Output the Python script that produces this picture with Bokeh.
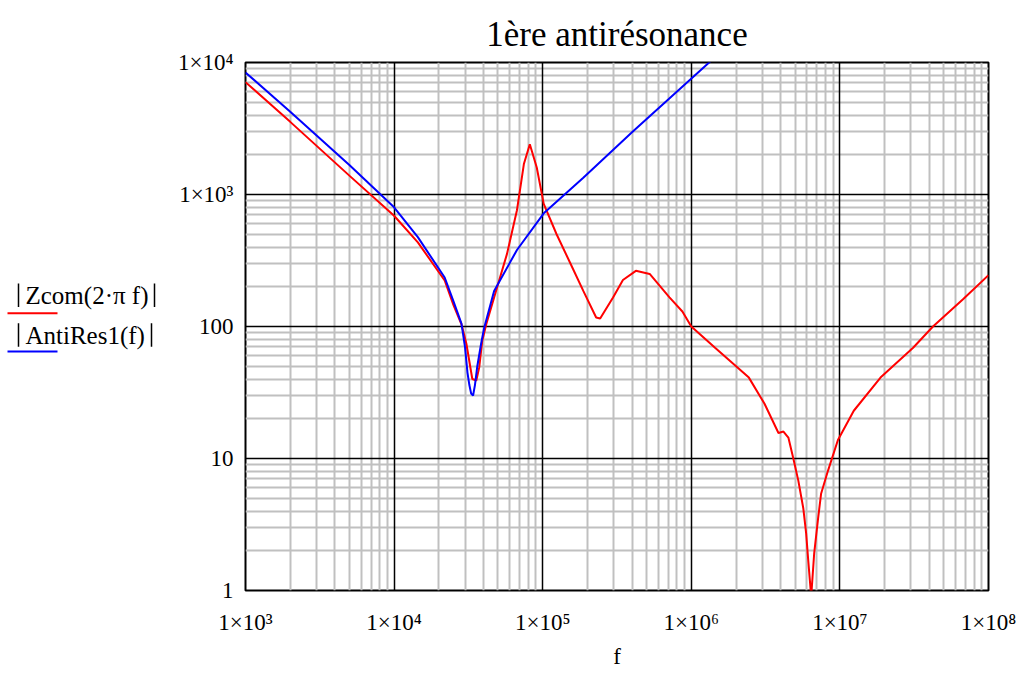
from bokeh.plotting import figure
from bokeh.layouts import row
from bokeh.models import Range1d, FixedTicker, Grid
from bokeh.core.properties import value
from bokeh.embed import file_html
from bokeh.resources import INLINE

# ---- data ----
f_zcom = [1000, 2000, 5000, 10000, 14450, 21900, 25100, 28400, 30650, 33600,
          35750, 37400, 39200, 41700, 47100, 57500, 67100, 74700, 81900, 91200,
          101600, 124000, 153700, 187600, 229000, 243600, 297400, 346700, 423600,
          524800, 713000, 871000, 1000000, 1445000, 2440000, 3110000, 3860000,
          4170000, 4500000, 4860000, 5250000, 5670000, 5930000, 6120000, 6410000,
          6710000, 7130000, 7470000, 8320000, 9700000, 12400000, 18760000,
          31100000, 42300000, 67100000, 100000000]
z_zcom = [7100, 3550, 1390, 690, 434, 223, 145, 104, 74, 40,
          39, 49, 78, 104, 166, 355, 760, 1700, 2400, 1600,
          850, 500, 300, 186, 117, 115, 166, 225, 264,
          250, 166, 130, 100, 69, 41, 26, 15.6,
          16, 14.4, 10, 6.8, 4.2, 2.7, 1.7, 0.9,
          1.9, 3.5, 5.4, 8.1, 13.8, 23, 41,
          69, 100, 160, 245]

f_anti = [1000, 2000, 5000, 10000, 14450, 21900, 25100, 28400, 30000, 31150,
          32100, 33000, 34000, 35000, 36300, 38500, 40400, 47100, 67100, 101600,
          187600, 404000, 1318000, 2000000]
z_anti = [8400, 4240, 1675, 800, 475, 235, 155, 105, 70, 45,
          36, 31, 30, 36, 50, 74, 98, 186, 380, 720,
          1340, 3000, 10000, 15200]

x_ticks = [1000, 10000, 100000, 1000000, 10000000, 100000000]
x_tick_labels = ["1×10³", "1×10⁴", "1×10⁵", "1×10⁶", "1×10⁷", "1×10⁸"]
y_ticks = [1, 10, 100, 1000, 10000]
y_tick_labels = ["1", "10", "100", "1×10³", "1×10⁴"]

title_text = "1ère antirésonance"
x_label = "f"
legend_names = ["Zcom(2·π f)", "AntiRes1(f)"]
legend_colors = ["#ff0000", "#0000ff"]

# ---- layout (page pixel coordinates) ----
TOTAL_W, H = 1019, 674
LW = 175                                # width of the legend strip
PL, PT, PR, PB = 239, 62, 988, 590      # frame edges on the page
FONT = "Liberation Serif"

# ---------- legend strip ----------
leg = figure(width=LW, height=H, x_range=Range1d(0, LW), y_range=Range1d(H, 0),
             x_axis_location=None, y_axis_location=None,
             output_backend="svg", toolbar_location=None,
             min_border=0, min_border_left=0, min_border_right=0,
             min_border_top=0, min_border_bottom=0)
leg.outline_line_color = None
leg.background_fill_color = "white"
leg.border_fill_color = "white"
leg.grid.visible = False

text_y = [298, 349]
bar_y = [297, 348]
line_y = [320, 369]
right_bar = [154, 151]
leg.text(x=[25, 25], y=text_y, text=legend_names, text_font=value(FONT),
         text_font_size=value("25px"), text_align="left",
         text_baseline="middle", text_color="black")
leg.segment(x0=[18, 18] + right_bar, x1=[18, 18] + right_bar,
            y0=[t - 15 for t in bar_y] * 2, y1=[t + 15 for t in bar_y] * 2,
            line_color="black", line_width=1.5)
leg.segment(x0=[7, 7], x1=[57, 57], y0=line_y, y1=line_y,
            line_color=legend_colors, line_width=2)

# ---------- main chart ----------
MW = TOTAL_W - LW
p = figure(width=MW, height=H, x_axis_type="log", y_axis_type="log",
           x_range=Range1d(1e3, 1e8), y_range=Range1d(1, 1e4),
           output_backend="svg", toolbar_location=None,
           min_border_left=PL - LW, min_border_top=PT,
           min_border_right=TOTAL_W - PR, min_border_bottom=H - PB)
p.background_fill_color = "white"
p.border_fill_color = "white"
p.outline_line_color = "black"
p.outline_line_width = 2

p.title.text = title_text
p.title.align = "center"
p.title.text_font = FONT
p.title.text_font_size = "35px"
p.title.text_font_style = "normal"
p.title.text_color = "black"
p.title.standoff = 18

x_minor = [m * t for t in x_ticks[:-1] for m in range(2, 10)]
y_minor = [m * t for t in y_ticks[:-1] for m in range(2, 10)]
xt = FixedTicker(ticks=x_ticks, minor_ticks=x_minor)
yt = FixedTicker(ticks=y_ticks, minor_ticks=y_minor)
p.xaxis.ticker = xt
p.yaxis.ticker = yt
p.xaxis.major_label_overrides = dict(zip(x_ticks, x_tick_labels))
p.yaxis.major_label_overrides = dict(zip(y_ticks, y_tick_labels))

for ax in (p.xaxis, p.yaxis):
    ax.axis_line_color = None
    ax.major_tick_line_color = None
    ax.minor_tick_line_color = None
    ax.major_label_text_font = FONT
    ax.major_label_text_font_size = "23px"
    ax.major_label_text_color = "black"
p.xaxis.major_label_standoff = 13
p.yaxis.major_label_standoff = 6
p.xaxis.axis_label = x_label
p.xaxis.axis_label_text_font = FONT
p.xaxis.axis_label_text_font_size = "23px"
p.xaxis.axis_label_text_font_style = "normal"
p.xaxis.axis_label_text_color = "black"
p.xaxis.axis_label_standoff = 6

# minor grid (gray) from the default grids
p.xgrid.ticker = xt
p.ygrid.ticker = yt
for g in (p.xgrid, p.ygrid):
    g.grid_line_color = None
    g.minor_grid_line_color = "#c0c0c0"
    g.minor_grid_line_width = 2
# major grid (black) on top
p.add_layout(Grid(dimension=0, ticker=xt, grid_line_color="black", grid_line_width=1.5))
p.add_layout(Grid(dimension=1, ticker=yt, grid_line_color="black", grid_line_width=1.5))

p.line(f_zcom, z_zcom, line_color=legend_colors[0], line_width=2)
p.line(f_anti, z_anti, line_color=legend_colors[1], line_width=2)

layout = row(leg, p, spacing=0)
open("out.html", "w").write(file_html(layout, INLINE))
